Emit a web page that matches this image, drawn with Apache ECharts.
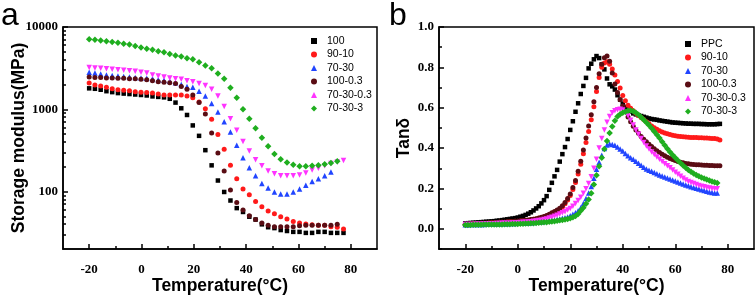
<!DOCTYPE html>
<html><head><meta charset="utf-8">
<script src="https://cdn.jsdelivr.net/npm/echarts@6/dist/echarts.min.js"></script>
<style>html,body{margin:0;padding:0;background:#fff}#c{width:756px;height:300px}</style>
</head><body><div id="c"></div>
<script>
// ---------- Panel a: storage modulus (MPa) vs temperature ----------
const tempA = [-20, -17.8, -15.6, -13.4, -11.2, -9, -6.8, -4.6, -2.4, -0.2, 2, 4.2, 6.4, 8.6, 10.8, 13, 15.2, 17.4, 19.6, 22, 24.4, 26.8, 29.2, 31.6, 34, 36.4, 38.8, 41.2, 43.6, 46, 48.4, 50.8, 53.2, 55.6, 58, 60.4, 62.8, 65.2, 67.6, 70, 72.4, 74.8, 77.2];
const modA_100 = [1796, 1773, 1726, 1658, 1615, 1572, 1551, 1531, 1511, 1491, 1471, 1433, 1413, 1394, 1340, 1205, 1027, 852, 636, 475, 318, 208, 136, 98.7, 77.7, 62.8, 56.4, 49.4, 45.6, 39.9, 36.8, 35.9, 34.0, 33.1, 32.3, 32.3, 31.4, 31.4, 32.3, 32.3, 31.4, 31.4, 31.4];
const modA_90_10 = [2079, 1971, 1920, 1845, 1773, 1726, 1703, 1680, 1636, 1615, 1593, 1572, 1531, 1491, 1491, 1491, 1491, 1452, 1376, 1221, 1013, 756, 494, 327, 208, 143, 107, 91.1, 75.6, 65.3, 57.9, 53.5, 49.4, 46.2, 43.2, 41.5, 40.4, 39.4, 38.9, 38.9, 37.4, 36.8, 34.9];
const modA_70_30 = [2824, 2750, 2677, 2608, 2573, 2539, 2505, 2472, 2439, 2407, 2375, 2344, 2283, 2253, 2193, 2107, 1998, 1894, 1845, 1658, 1452, 1173, 923, 707, 528, 364, 257, 195, 155, 125, 110, 98.7, 93.5, 93.5, 98.7, 107, 119, 132, 143, 155, 173];
const modA_100_03 = [2472, 2439, 2439, 2407, 2407, 2375, 2375, 2344, 2344, 2313, 2283, 2223, 2164, 2135, 2107, 2051, 1894, 1749, 1491, 1205, 875, 514, 294, 177, 104, 73.6, 59.5, 50.7, 45.6, 41.5, 38.9, 37.4, 37.4, 37.4, 37.4, 38.4, 38.9, 38.9, 38.9, 38.9, 38.9, 39.9];
const modA_70_30_03 = [3227, 3184, 3141, 3099, 3058, 3018, 2979, 2939, 2900, 2824, 2750, 2608, 2539, 2472, 2407, 2344, 2313, 2223, 2164, 2051, 1945, 1749, 1452, 1083, 766, 557, 405, 310, 244, 205, 177, 164, 155, 155, 155, 159, 168, 182, 192, 205, 219, 228, 238];
const modA_70_30_3 = [7112, 6982, 6835, 6709, 6567, 6446, 6277, 6112, 5873, 5642, 5422, 5279, 5073, 4940, 4684, 4501, 4382, 4155, 4046, 3735, 3402, 3141, 2714, 2344, 1820, 1376, 1000, 766, 587, 450, 354, 286, 247, 225, 211, 203, 203, 205, 208, 214, 222, 234];

// ---------- Panel b: tan delta vs temperature ----------
const tempB = [-20,-19,-18,-17,-16,-15,-14,-13,-12,-11,-10,-9,-8,-7,-6,-5,-4,-3,-2,-1,0,1,2,3,4,5,6,7,8,9,10,11,12,13,14,15,16,17,18,19,20,21,22,23,24,25,26,27,28,29,30,31,32,33,34,35,36,37,38,39,40,41,42,43,44,45,46,47,48,49,50,51,52,53,54,55,56,57,58,59,60,61,62,63,64,65,66,67,68,69,70,71,72,73,74,75,76,77];
const tanB_PPC = [.027,.028,.029,.030,.031,.032,.033,.034,.035,.036, .037,.038,.040,.041,.043,.045,.047,.049,.051,.053, .056,.060,.064,.069,.075,.082,.091,.101,.112,.126, .142,.162,.193,.228,.260,.292,.333,.370,.405,.445, .490,.533,.580,.622,.668,.708,.748,.795,.818,.840, .856,.846,.815,.790,.745,.716,.706,.690,.662,.640, .620,.604,.591,.580,.572,.567,.563,.559,.555,.551, .547,.544,.542,.540,.537,.535,.533,.531,.529,.527, .526,.525,.524,.523,.522,.521,.521,.520,.520,.520, .519,.519,.518,.518,.518,.518,.519,.520];
const tanB_90_10 = [.023,.023,.024,.025,.025,.026,.027,.027,.028,.029, .030,.030,.031,.032,.033,.033,.034,.035,.036,.037, .038,.039,.040,.042,.043,.045,.047,.049,.052,.055, .059,.063,.068,.074,.081,.088,.096,.108,.124,.143, .165,.195,.230,.272,.320,.372,.428,.482,.540,.605, .680,.750,.800,.822,.828,.815,.792,.762,.730,.698, .660,.634,.612,.597,.585,.573,.562,.552,.542,.531, .520,.510,.501,.493,.486,.480,.475,.471,.467,.464, .461,.459,.457,.456,.455,.454,.453,.452,.452,.451, .451,.450,.450,.449,.448,.447,.445,.440];
const tanB_70_30 = [.020,.020,.021,.021,.021,.022,.022,.022,.023,.023, .023,.024,.024,.024,.025,.025,.025,.026,.026,.026, .027,.027,.028,.028,.029,.030,.031,.032,.033,.035, .036,.038,.040,.042,.044,.046,.049,.052,.055,.059, .065,.072,.080,.090,.105,.125,.150,.178,.210,.250, .295,.330,.365,.398,.415,.420,.418,.414,.405,.395, .385,.373,.362,.352,.345,.335,.325,.315,.305,.297, .290,.285,.279,.273,.267,.262,.257,.252,.247,.242, .237,.232,.227,.222,.217,.213,.209,.205,.201,.197, .193,.190,.186,.183,.180,.178,.177];
const tanB_100_03 = [.022,.023,.024,.024,.025,.026,.027,.027,.028,.029, .030,.030,.031,.032,.033,.033,.034,.035,.036,.037, .038,.039,.041,.042,.044,.046,.048,.050,.053,.057, .061,.066,.072,.079,.086,.093,.102,.114,.130,.150, .172,.205,.240,.285,.335,.390,.450,.510,.565,.630, .700,.768,.815,.848,.856,.830,.772,.718,.676,.640, .608,.580,.554,.530,.508,.490,.474,.458,.444,.431, .419,.408,.397,.387,.378,.370,.362,.355,.349,.343, .338,.334,.330,.327,.324,.322,.320,.319,.318,.317, .316,.315,.315,.314,.314,.313,.313,.312];
const tanB_70_30_03 = [.021,.021,.022,.022,.023,.023,.023,.024,.024,.025, .025,.025,.026,.026,.027,.027,.028,.028,.029,.029, .030,.031,.032,.033,.034,.035,.037,.039,.041,.043, .046,.049,.053,.057,.062,.067,.073,.079,.085,.093, .101,.112,.125,.140,.157,.176,.198,.225,.258,.300, .345,.400,.448,.490,.528,.556,.575,.585,.590,.592, .589,.578,.560,.538,.514,.490,.468,.447,.428,.410, .395,.381,.368,.356,.345,.334,.323,.313,.302,.291, .280,.270,.260,.250,.242,.235,.229,.224,.219,.215, .211,.208,.205,.202,.200,.199,.198];
const tanB_70_30_3 = [.019,.019,.019,.020,.020,.020,.020,.021,.021,.021, .021,.022,.022,.022,.022,.023,.023,.023,.024,.024, .024,.025,.025,.026,.026,.027,.028,.029,.030,.031, .032,.033,.035,.036,.038,.040,.042,.044,.046,.049, .052,.057,.064,.074,.089,.105,.124,.145,.176,.220, .266,.310,.352,.395,.435,.475,.507,.535,.556,.568, .575,.580,.585,.586,.582,.575,.565,.553,.540,.527, .513,.498,.482,.466,.450,.432,.414,.397,.381,.366, .352,.339,.326,.314,.303,.292,.283,.274,.267,.260, .254,.249,.244,.239,.235,.231,.227];

// ---------- ticks ----------
const xMajor = [-20, 0, 20, 40, 60, 80];
const xMinor = [-10, 10, 30, 50, 70];
const yMajorA = [100, 1000, 10000];
const yMinorA = [30, 40, 50, 60, 70, 80, 90, 200, 300, 400, 500, 600, 700, 800, 900, 2000, 3000, 4000, 5000, 6000, 7000, 8000, 9000];
const yMajorB = [0, 0.2, 0.4, 0.6, 0.8, 1.0];
const yMinorB = [-0.1, 0.1, 0.3, 0.5, 0.7, 0.9];

const namesA = ['100', '90-10', '70-30', '100-0.3', '70-30-0.3', '70-30-3'];
const namesB = ['PPC', '90-10', '70-30', '100-0.3', '70-30-0.3', '70-30-3'];
const colors = ['#000000', '#ff1a1a', '#2145ff', '#5a0d14', '#ff33ff', '#1fae1f'];
const symbols = ['rect', 'circle', 'triangle', 'circle', 'triangle', 'diamond'];
const rotations = [0, 0, 0, 0, 180, 0];
const sizes = [4.5, 5, 5.5, 5, 5.5, 6.5];
const seriesA = [modA_100, modA_90_10, modA_70_30, modA_100_03, modA_70_30_03, modA_70_30_3];
const seriesB = [tanB_PPC, tanB_90_10, tanB_70_30, tanB_100_03, tanB_70_30_03, tanB_70_30_3];

const labelFont = {fontFamily: 'Liberation Serif', fontWeight: 'bold', fontSize: 13, color: '#000'};
const nameFont = {fontFamily: 'Liberation Sans', fontWeight: 'bold', fontSize: 17.5, color: '#000'};
const lineStyle = {color: '#000', width: 1.5};

function xAxes(gridIndex) {
  return [
    {type: 'value', gridIndex, min: -30, max: 90, position: 'bottom',
     axisLine: {show: true, onZero: false, lineStyle}, splitLine: {show: false},
     axisTick: {show: true, inside: true, length: 5, lineStyle, customValues: xMajor},
     axisLabel: {show: true, margin: 14, customValues: xMajor, ...labelFont},
     name: 'Temperature(°C)', nameLocation: 'middle', nameGap: 28, nameMoveOverlap: false, nameTextStyle: nameFont},
    {type: 'value', gridIndex, min: -30, max: 90, position: 'bottom',
     axisLine: {show: false, onZero: false}, splitLine: {show: false},
     axisTick: {show: true, inside: true, length: 3, lineStyle, customValues: xMinor},
     axisLabel: {show: false}}
  ];
}

const legendText = {fontFamily: 'Liberation Sans', fontSize: 10.5, lineHeight: 12, color: '#000', padding: [0, 0, 0, 5]};

const option = {
  animation: false,
  backgroundColor: '#fff',
  grid: [
    {left: 63, top: 27, width: 314, height: 233, show: true, borderColor: '#000', borderWidth: 1.5, backgroundColor: 'transparent'},
    {left: 439, top: 27, width: 315, height: 232, show: true, borderColor: '#000', borderWidth: 1.5, backgroundColor: 'transparent'}
  ],
  xAxis: [...xAxes(0), ...xAxes(1)],
  yAxis: [
    {type: 'log', logBase: 10, gridIndex: 0, min: 20, max: 10000, position: 'left',
     axisLine: {show: true, onZero: false, lineStyle}, splitLine: {show: false},
     axisTick: {show: true, inside: true, length: 5, lineStyle, customValues: yMajorA},
     axisLabel: {show: true, margin: 5, customValues: yMajorA, formatter: v => String(Math.round(v)), ...labelFont},
     name: 'Storage modulus(MPa)', nameLocation: 'middle', nameGap: 35, nameMoveOverlap: false, nameTextStyle: nameFont},
    {type: 'log', logBase: 10, gridIndex: 0, min: 20, max: 10000, position: 'left',
     axisLine: {show: false, onZero: false}, splitLine: {show: false},
     axisTick: {show: true, inside: true, length: 3, lineStyle, customValues: yMinorA},
     axisLabel: {show: false}},
    {type: 'value', gridIndex: 1, min: -0.1, max: 1.0, position: 'left',
     axisLine: {show: true, onZero: false, lineStyle}, splitLine: {show: false},
     axisTick: {show: true, inside: true, length: 5, lineStyle, customValues: yMajorB},
     axisLabel: {show: true, margin: 5, customValues: yMajorB, formatter: v => v.toFixed(1), ...labelFont},
     name: 'Tanδ', nameLocation: 'middle', nameGap: 26, nameMoveOverlap: false, nameTextStyle: nameFont},
    {type: 'value', gridIndex: 1, min: -0.1, max: 1.0, position: 'left',
     axisLine: {show: false, onZero: false}, splitLine: {show: false},
     axisTick: {show: true, inside: true, length: 3, lineStyle, customValues: yMinorB},
     axisLabel: {show: false}}
  ],
  legend: [
    {data: namesA, orient: 'vertical', left: 306, top: 30, itemWidth: 6, itemHeight: 6, itemGap: 1.5,
     textStyle: legendText, selectedMode: false},
    {data: namesB, orient: 'vertical', left: 680, top: 33, itemWidth: 6, itemHeight: 6, itemGap: 1.5,
     textStyle: legendText, selectedMode: false}
  ],
  graphic: [
    {type: 'text', left: 1, top: 0, style: {text: 'a', font: '32px "Liberation Sans"', fill: '#000'}},
    {type: 'text', left: 389, top: 0, style: {text: 'b', font: '32px "Liberation Sans"', fill: '#000'}}
  ],
  series: [
    ...seriesA.map((vals, i) => ({
      type: 'scatter', name: namesA[i], xAxisIndex: 0, yAxisIndex: 0,
      symbol: symbols[i], symbolRotate: rotations[i], symbolSize: sizes[i],
      itemStyle: {color: colors[i], opacity: 1},
      data: vals.map((v, k) => [tempA[k], v])
    })),
    ...seriesB.map((vals, i) => ({
      type: 'scatter', name: namesB[i], xAxisIndex: 2, yAxisIndex: 2,
      symbol: symbols[i], symbolRotate: rotations[i], symbolSize: sizes[i],
      itemStyle: {color: colors[i], opacity: 1},
      data: vals.map((v, k) => [tempB[k], v])
    }))
  ]
};
const chart = echarts.init(document.getElementById('c'), null, {renderer: 'canvas'});
chart.setOption(option);
</script>
</body></html>
